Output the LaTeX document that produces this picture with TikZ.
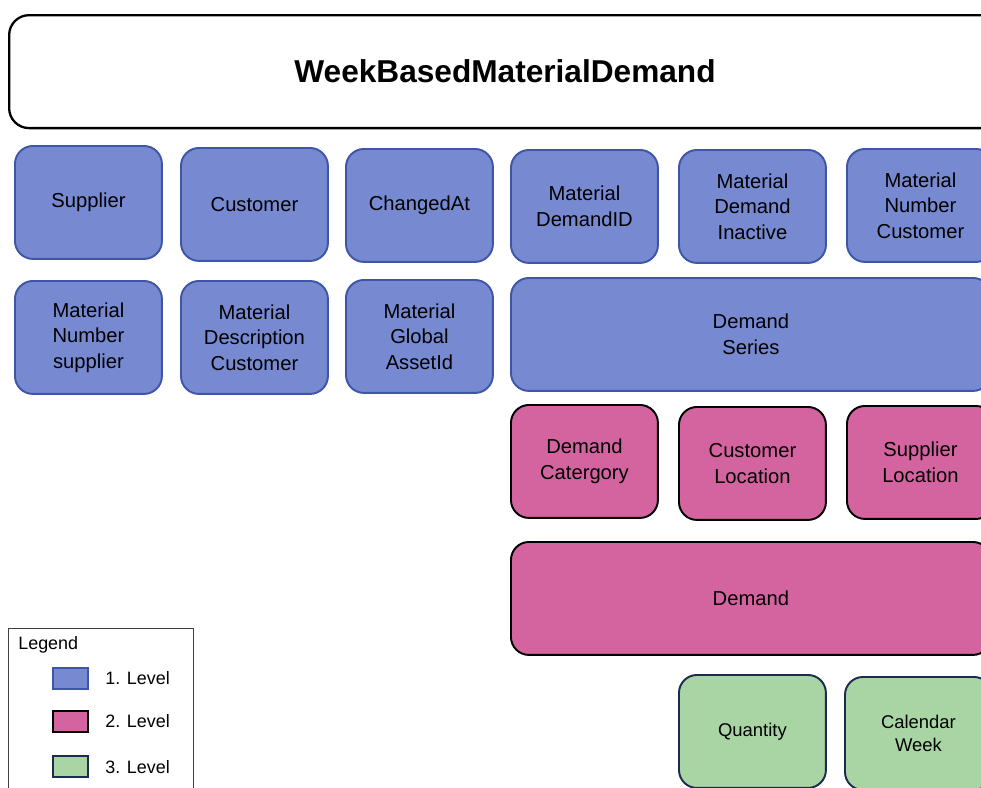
\documentclass[tikz,border=0pt]{standalone}
\usepackage{fontspec}
\setmainfont{Liberation Sans}
\definecolor{lvlone}{HTML}{7689D1}
\definecolor{lvlonedraw}{HTML}{3F55A8}
\definecolor{lvltwo}{HTML}{D464A0}
\definecolor{lvlthree}{HTML}{A9D4A3}
\definecolor{lvlthreedraw}{HTML}{1C2B4F}
\begin{document}
\begin{tikzpicture}[x=0.02cm,y=-0.02cm,
		box/.style={rounded corners=0.36cm, line width=1.1pt, align=center, inner sep=0pt,
			anchor=north west, minimum width=2.94cm, minimum height=2.26cm,
			font=\fontsize{11.5}{14.5}\selectfont},
		one/.style={box, fill=lvlone, draw=lvlonedraw},
		two/.style={box, fill=lvltwo, draw=black},
		three/.style={box, fill=lvlthree, draw=lvlthreedraw, font=\fontsize{10.5}{13}\selectfont},
		wide/.style={minimum width=9.6cm},
		swatch/.style={minimum width=0.7cm, minimum height=0.42cm, inner sep=0pt, line width=1pt},
		legtext/.style={anchor=west, inner sep=0pt, font=\fontsize{10.2}{12}\selectfont}]
				\useasboundingbox (0,0) rectangle (981,788);
				\clip (0,0) rectangle (981,788);
				% title
				\node [draw=black, line width=1.3pt, rounded corners=0.4cm, anchor=north west,
					minimum width=19.84cm, minimum height=2.26cm,
					font=\bfseries\fontsize{18}{22}\selectfont] (title) at (8,14) {WeekBasedMaterialDemand};
				% level 1
				\node [one] (supplier) at (14,145) {Supplier};
				\node [one] (customer) at (180,147) {Customer};
				\node [one] (changedat) at (345,148) {ChangedAt};
				\node [one] (demandid) at (510,149) {Material\\DemandID};
				\node [one] (inactive) at (678,149) {Material\\Demand\\Inactive};
				\node [one] (numcustomer) at (846,148) {Material\\Number\\Customer};
				\node [one] (numsupplier) at (14,280) {Material\\Number\\supplier};
				\node [one] (description) at (180,280) {Material\\Description\\Customer};
				\node [one] (assetid) at (345,279) {Material\\Global\\AssetId};
				\node [one, wide] (series) at (510,277) {Demand\\Series};
				% level 2
				\node [two] (category) at (510,404) {Demand\\Catergory};
				\node [two] (custloc) at (678,406) {Customer\\Location};
				\node [two] (supploc) at (846,405) {Supplier\\Location};
				\node [two, wide] (demand) at (510,541) {Demand};
				% level 3
				\node [three] (quantity) at (678,674) {Quantity};
				\node [three] (calweek) at (844,676) {Calendar\\Week};
				% legend
				\node [draw=black!75, line width=0.6pt, anchor=north west, minimum width=3.7cm,
					minimum height=4cm] (legend) at (8,628) {};
				\node [legtext] (legtitle) at (18,645) {Legend};
				\node [swatch, fill=lvlone, draw=lvlonedraw] (swone) at (70.5,678.5) {};
				\node [swatch, fill=lvltwo, draw=black] (swtwo) at (70.5,721.5) {};
				\node [swatch, fill=lvlthree, draw=lvlthreedraw] (swthree) at (70.5,766.5) {};
				\node [legtext] (lblone) at (105,678) {1. Level};
				\node [legtext] (lbltwo) at (105,721) {2. Level};
				\node [legtext] (lblthree) at (105,767) {3. Level};
\end{tikzpicture}
\end{document}
